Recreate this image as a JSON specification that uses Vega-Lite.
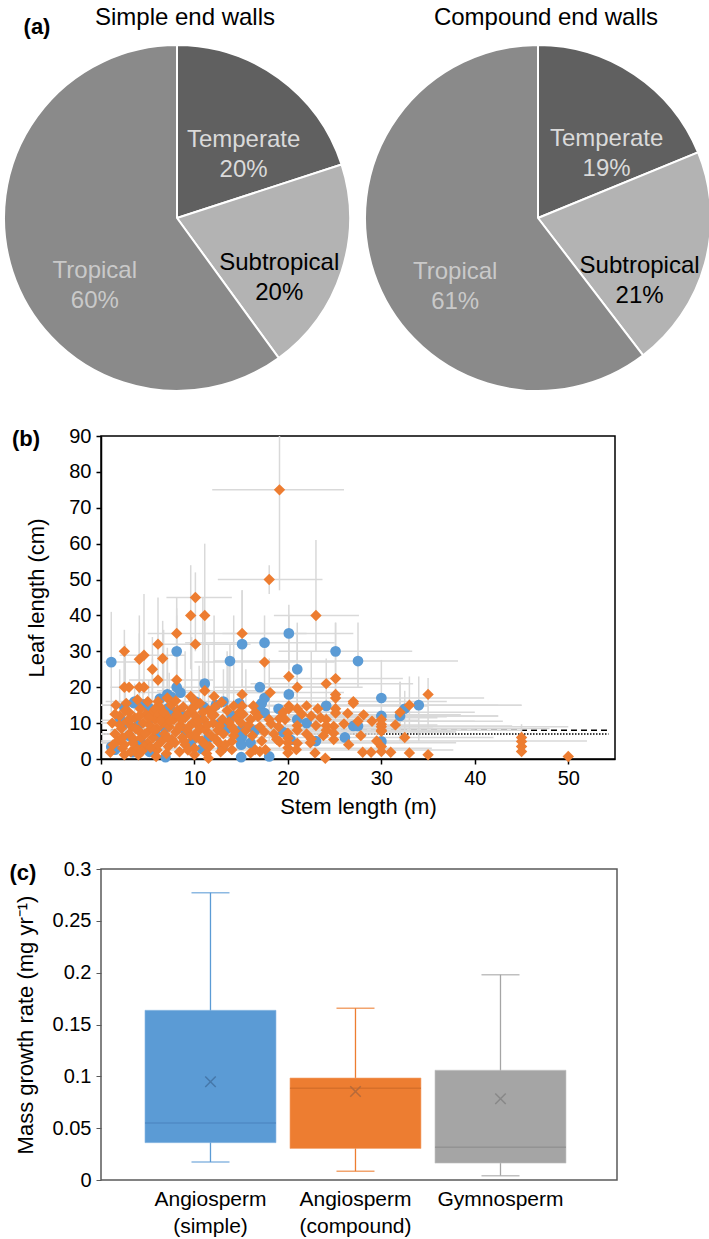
{
  "$schema": "https://vega.github.io/schema/vega-lite/v6.json",
  "background": "white",
  "padding": {"left": 0, "top": 6, "right": 0, "bottom": 4},
  "config": {
    "font": "Liberation Sans",
    "view": {"stroke": null},
    "axis": {"labelFont": "Liberation Sans", "titleFont": "Liberation Sans", "labelColor": "#000", "titleColor": "#000", "titleFontWeight": "normal", "grid": false, "labelOverlap": false},
    "text": {"font": "Liberation Sans"}
  },
  "bounds": "flush",
  "spacing": 110,
  "resolve": {"scale": {"color": "independent", "stroke": "independent"}},
  "datasets": {
    "pts": [
      {"g":"s","x":1.1,"y":27,"yl":13,"yh":41,"xl":0.3,"xh":4},
      {"g":"s","x":2.5,"y":14.4},
      {"g":"s","x":3.6,"y":16,"xl":0.5,"xh":14},
      {"g":"s","x":4.6,"y":15.2},
      {"g":"s","x":5.1,"y":14.3,"yl":8,"yh":22},
      {"g":"s","x":7.1,"y":18,"yl":6,"yh":31},
      {"g":"s","x":8.1,"y":30,"yl":20,"yh":42},
      {"g":"s","x":8.1,"y":20},
      {"g":"s","x":8.5,"y":18.5,"xl":4,"xh":20},
      {"g":"s","x":10.1,"y":16},
      {"g":"s","x":11.1,"y":21,"yl":10,"yh":38},
      {"g":"s","x":13.1,"y":16,"yl":8,"yh":25},
      {"g":"s","x":13.8,"y":27.3,"xl":12,"xh":21,"yl":20,"yh":32},
      {"g":"s","x":15.1,"y":32,"yl":20,"yh":47},
      {"g":"s","x":15.1,"y":6.5},
      {"g":"s","x":17.5,"y":32.4,"yl":25,"yh":40,"xl":9,"xh":25},
      {"g":"s","x":17,"y":20,"xl":12,"xh":24},
      {"g":"s","x":17.5,"y":17},
      {"g":"s","x":17,"y":14.8},
      {"g":"s","x":17.5,"y":12.8},
      {"g":"s","x":20.1,"y":35,"xl":13,"xh":27,"yl":25,"yh":43},
      {"g":"s","x":20.1,"y":18},
      {"g":"s","x":21,"y":25,"yl":15,"yh":35},
      {"g":"s","x":21,"y":11},
      {"g":"s","x":24.1,"y":14.8},
      {"g":"s","x":25.1,"y":30,"xl":19,"xh":33.3,"yl":17,"yh":38},
      {"g":"s","x":27.5,"y":27.3,"xl":17,"xh":38.2,"yl":20,"yh":38},
      {"g":"s","x":26.1,"y":6},
      {"g":"s","x":27,"y":9.2},
      {"g":"s","x":27.5,"y":9.2},
      {"g":"s","x":30,"y":17,"xl":20,"xh":41,"yl":10,"yh":27.6},
      {"g":"s","x":30,"y":12,"xl":18,"xh":42.5},
      {"g":"s","x":32,"y":12,"yl":5,"yh":21.5},
      {"g":"s","x":32.5,"y":14,"yl":8,"yh":19},
      {"g":"s","x":34,"y":15,"yl":5,"yh":23,"xl":25,"xh":45},
      {"g":"s","x":30,"y":4.9},
      {"g":"s","x":15,"y":5.8},
      {"g":"s","x":15,"y":4},
      {"g":"s","x":15,"y":0.5},
      {"g":"s","x":13,"y":3},
      {"g":"s","x":18,"y":0.7},
      {"g":"s","x":6.9,"y":0.5},
      {"g":"s","x":1.5,"y":2.6},
      {"g":"s","x":3.4,"y":1.9},
      {"g":"s","x":3.5,"y":15.6},
      {"g":"s","x":7.5,"y":17.3},
      {"g":"s","x":7.2,"y":14.2},
      {"g":"s","x":7.6,"y":13.3},
      {"g":"s","x":15,"y":8.1},
      {"g":"s","x":17.2,"y":15.5},
      {"g":"s","x":20.3,"y":5.3},
      {"g":"s","x":12.8,"y":10},
      {"g":"s","x":2.5,"y":10},
      {"g":"s","x":1.1,"y":3.4},
      {"g":"s","x":4.3,"y":4.6},
      {"g":"s","x":6.8,"y":8.6},
      {"g":"s","x":9,"y":8},
      {"g":"s","x":10.5,"y":11},
      {"g":"s","x":5.5,"y":11.5},
      {"g":"s","x":12.3,"y":15},
      {"g":"s","x":19,"y":14},
      {"g":"s","x":22,"y":10},
      {"g":"s","x":14,"y":12},
      {"g":"s","x":11.5,"y":6},
      {"g":"s","x":3,"y":6.5},
      {"g":"s","x":16.5,"y":8},
      {"g":"s","x":2,"y":11.5},
      {"g":"s","x":4,"y":9.5},
      {"g":"s","x":6,"y":6.5},
      {"g":"s","x":8.8,"y":12},
      {"g":"s","x":11,"y":14.5},
      {"g":"s","x":13.5,"y":8.5},
      {"g":"s","x":16,"y":4.5},
      {"g":"s","x":19.5,"y":7.5},
      {"g":"s","x":23,"y":5},
      {"g":"s","x":6.3,"y":16.8},
      {"g":"s","x":9.6,"y":4.3},
      {"g":"s","x":5.2,"y":2},
      {"g":"s","x":10.8,"y":2.8},
      {"g":"s","x":14.8,"y":15.5},
      {"g":"c","x":1.6,"y":15,"xl":0,"xh":6},
      {"g":"c","x":2.5,"y":30,"yl":20,"yh":36},
      {"g":"c","x":2.5,"y":20,"yl":10,"yh":30},
      {"g":"c","x":3,"y":20},
      {"g":"c","x":4.1,"y":27.8,"yl":15,"yh":40},
      {"g":"c","x":4.6,"y":28.9,"yl":18,"yh":46,"xl":2,"xh":9},
      {"g":"c","x":4.1,"y":20},
      {"g":"c","x":4.6,"y":20,"xl":1,"xh":11},
      {"g":"c","x":5.5,"y":25,"yl":14,"yh":34},
      {"g":"c","x":6.1,"y":32,"yl":20,"yh":45},
      {"g":"c","x":6.1,"y":22,"xl":3,"xh":12},
      {"g":"c","x":6.6,"y":28,"yl":15,"yh":38.5},
      {"g":"c","x":6.1,"y":16},
      {"g":"c","x":7.1,"y":17,"yl":8,"yh":28},
      {"g":"c","x":8.1,"y":35,"xl":5,"xh":12,"yl":25,"yh":45},
      {"g":"c","x":8.1,"y":22,"yl":12,"yh":38},
      {"g":"c","x":9.6,"y":40,"yl":25,"yh":54},
      {"g":"c","x":10.1,"y":45,"yl":30,"yh":52,"xl":7,"xh":14},
      {"g":"c","x":10.1,"y":32,"xl":6,"xh":16},
      {"g":"c","x":11.1,"y":40,"yl":20,"yh":60},
      {"g":"c","x":11.1,"y":19,"xl":6,"xh":18},
      {"g":"c","x":9.6,"y":17.4},
      {"g":"c","x":10.1,"y":14.8},
      {"g":"c","x":12.1,"y":17.4,"yl":8,"yh":40},
      {"g":"c","x":12.1,"y":12.3},
      {"g":"c","x":14.2,"y":14.8,"yl":8,"yh":40},
      {"g":"c","x":15.1,"y":35,"xl":11,"xh":22,"yl":20,"yh":47},
      {"g":"c","x":15.1,"y":18},
      {"g":"c","x":15.1,"y":14.8},
      {"g":"c","x":17.5,"y":27,"yl":20,"yh":33,"xl":10,"xh":25},
      {"g":"c","x":18.1,"y":18.5,"xl":11,"xh":26},
      {"g":"c","x":16.3,"y":14.8},
      {"g":"c","x":19.1,"y":11.3},
      {"g":"c","x":18,"y":50,"xl":12.5,"xh":23.7,"yl":46,"yh":54},
      {"g":"c","x":19.1,"y":75,"xl":11.9,"xh":26,"yl":47,"yh":90},
      {"g":"c","x":20.1,"y":23,"yl":10,"yh":40},
      {"g":"c","x":20.1,"y":14.8},
      {"g":"c","x":20.1,"y":14},
      {"g":"c","x":21,"y":20,"xl":15,"xh":28,"yl":12,"yh":38},
      {"g":"c","x":21,"y":14},
      {"g":"c","x":22,"y":14.8,"xl":14,"xh":35},
      {"g":"c","x":23,"y":40,"xl":18.5,"xh":27.6,"yl":30,"yh":61},
      {"g":"c","x":24.1,"y":21,"xl":16,"xh":33.4,"yl":10,"yh":28},
      {"g":"c","x":25.1,"y":22.4,"xl":18,"xh":32.3,"yl":15,"yh":38},
      {"g":"c","x":25.1,"y":18},
      {"g":"c","x":25.1,"y":17},
      {"g":"c","x":27,"y":16,"xl":18,"xh":37},
      {"g":"c","x":27,"y":15.5},
      {"g":"c","x":28.1,"y":12.3,"xl":20,"xh":38.5},
      {"g":"c","x":26.4,"y":12.7},
      {"g":"c","x":27.5,"y":10.5,"xl":15,"xh":40},
      {"g":"c","x":30,"y":9.7},
      {"g":"c","x":30,"y":9,"xl":22,"xh":35.5},
      {"g":"c","x":30,"y":8},
      {"g":"c","x":32,"y":13,"yl":6,"yh":21.5},
      {"g":"c","x":33,"y":15,"yl":8,"yh":23,"xl":24,"xh":42.5},
      {"g":"c","x":35,"y":18,"yl":8.8,"yh":22.6},
      {"g":"c","x":45,"y":6,"yl":4,"yh":9.7},
      {"g":"c","x":24.1,"y":11},
      {"g":"c","x":24.1,"y":9.3},
      {"g":"c","x":24.1,"y":8},
      {"g":"c","x":25.1,"y":14},
      {"g":"c","x":25.1,"y":12.8},
      {"g":"c","x":23,"y":9.3},
      {"g":"c","x":22.5,"y":5.6},
      {"g":"c","x":21,"y":9.3},
      {"g":"c","x":21,"y":8},
      {"g":"c","x":21,"y":4.4},
      {"g":"c","x":19.1,"y":4.8},
      {"g":"c","x":20,"y":7.2},
      {"g":"c","x":20,"y":5.8},
      {"g":"c","x":20,"y":4.5},
      {"g":"c","x":20,"y":3.1},
      {"g":"c","x":20,"y":1.7},
      {"g":"c","x":20.9,"y":2.6},
      {"g":"c","x":22.4,"y":4.5},
      {"g":"c","x":22.9,"y":1.7},
      {"g":"c","x":24,"y":0.2},
      {"g":"c","x":24.9,"y":9.1},
      {"g":"c","x":24.9,"y":7.2},
      {"g":"c","x":24.9,"y":5.4},
      {"g":"c","x":28,"y":1.9},
      {"g":"c","x":28.9,"y":1.9},
      {"g":"c","x":30,"y":11},
      {"g":"c","x":30,"y":7.7},
      {"g":"c","x":30,"y":3.5},
      {"g":"c","x":30,"y":2.1},
      {"g":"c","x":31,"y":1.9},
      {"g":"c","x":33,"y":1.7},
      {"g":"c","x":35,"y":1.2},
      {"g":"c","x":45,"y":4.9},
      {"g":"c","x":45,"y":3.5},
      {"g":"c","x":45,"y":2.1},
      {"g":"c","x":50,"y":0.7},
      {"g":"c","x":17.6,"y":2.6},
      {"g":"c","x":17,"y":2.1},
      {"g":"c","x":16.5,"y":2.6},
      {"g":"c","x":16,"y":1.7},
      {"g":"c","x":14,"y":4.9},
      {"g":"c","x":14,"y":2.6},
      {"g":"c","x":13,"y":2.6},
      {"g":"c","x":11.5,"y":0.2},
      {"g":"c","x":10,"y":1.2},
      {"g":"c","x":5.9,"y":0.7},
      {"g":"c","x":4,"y":1.2},
      {"g":"c","x":2.5,"y":1.2},
      {"g":"c","x":1,"y":1.9},
      {"g":"c","x":1.2,"y":10,"xl":0,"xh":8},
      {"g":"c","x":1.5,"y":7},
      {"g":"c","x":1.8,"y":5},
      {"g":"c","x":2,"y":12,"yl":5,"yh":25},
      {"g":"c","x":2.2,"y":8.5},
      {"g":"c","x":2.5,"y":4},
      {"g":"c","x":2.8,"y":10.5},
      {"g":"c","x":3,"y":7,"xl":0,"xh":30},
      {"g":"c","x":3,"y":13},
      {"g":"c","x":3.3,"y":9},
      {"g":"c","x":3.5,"y":5.5},
      {"g":"c","x":3.6,"y":11.5,"yl":4,"yh":21},
      {"g":"c","x":3.8,"y":3},
      {"g":"c","x":4,"y":8,"xl":1,"xh":45},
      {"g":"c","x":4.2,"y":14},
      {"g":"c","x":4.3,"y":6},
      {"g":"c","x":4.5,"y":10,"yl":3,"yh":22},
      {"g":"c","x":4.8,"y":12.5},
      {"g":"c","x":5,"y":4.5,"xl":0,"xh":38},
      {"g":"c","x":5,"y":7.5},
      {"g":"c","x":5.2,"y":9.5},
      {"g":"c","x":5.5,"y":13,"yl":5,"yh":28},
      {"g":"c","x":5.6,"y":6},
      {"g":"c","x":5.8,"y":11},
      {"g":"c","x":6,"y":2.5,"xl":2,"xh":37.7},
      {"g":"c","x":6,"y":8.5},
      {"g":"c","x":6.3,"y":14.5},
      {"g":"c","x":6.5,"y":5,"xl":0,"xh":52},
      {"g":"c","x":6.6,"y":10},
      {"g":"c","x":6.8,"y":7},
      {"g":"c","x":7,"y":12,"xl":2,"xh":42.5},
      {"g":"c","x":7.2,"y":3.5},
      {"g":"c","x":7.3,"y":9,"yl":3,"yh":24},
      {"g":"c","x":7.5,"y":15,"xl":0,"xh":45},
      {"g":"c","x":7.6,"y":5.5},
      {"g":"c","x":7.8,"y":11},
      {"g":"c","x":8,"y":7.5,"xl":1,"xh":38},
      {"g":"c","x":8.2,"y":13.5},
      {"g":"c","x":8.4,"y":2},
      {"g":"c","x":8.5,"y":9.5},
      {"g":"c","x":8.7,"y":6},
      {"g":"c","x":9,"y":11.5,"yl":5,"yh":30},
      {"g":"c","x":9,"y":4},
      {"g":"c","x":9.2,"y":8},
      {"g":"c","x":9.5,"y":13,"xl":4,"xh":28},
      {"g":"c","x":9.6,"y":6.5},
      {"g":"c","x":9.8,"y":10},
      {"g":"c","x":10,"y":3,"xl":5,"xh":35.4},
      {"g":"c","x":10.1,"y":12},
      {"g":"c","x":10.3,"y":7.5},
      {"g":"c","x":10.5,"y":9,"yl":4,"yh":26},
      {"g":"c","x":10.6,"y":15.5},
      {"g":"c","x":10.8,"y":5},
      {"g":"c","x":11,"y":11,"xl":3,"xh":32},
      {"g":"c","x":11.2,"y":8},
      {"g":"c","x":11.5,"y":13.5,"yl":7,"yh":32},
      {"g":"c","x":11.6,"y":3.5},
      {"g":"c","x":11.8,"y":6.5},
      {"g":"c","x":12,"y":10},
      {"g":"c","x":12.2,"y":14.5},
      {"g":"c","x":12.5,"y":8,"xl":6,"xh":30},
      {"g":"c","x":12.6,"y":4.5},
      {"g":"c","x":13,"y":11},
      {"g":"c","x":13.1,"y":7},
      {"g":"c","x":13.5,"y":13.5,"yl":8,"yh":30},
      {"g":"c","x":14,"y":9},
      {"g":"c","x":14.2,"y":6.5},
      {"g":"c","x":14.5,"y":11.5,"xl":8,"xh":36},
      {"g":"c","x":15,"y":10},
      {"g":"c","x":15.2,"y":12.5},
      {"g":"c","x":15.5,"y":8,"yl":3,"yh":25},
      {"g":"c","x":16,"y":11},
      {"g":"c","x":16.2,"y":6.5},
      {"g":"c","x":16.5,"y":13,"xl":9,"xh":40},
      {"g":"c","x":17,"y":9},
      {"g":"c","x":17.2,"y":5},
      {"g":"c","x":18,"y":11,"yl":5,"yh":28},
      {"g":"c","x":18.5,"y":7},
      {"g":"c","x":19,"y":9},
      {"g":"c","x":19.5,"y":13},
      {"g":"c","x":22.5,"y":12,"yl":6,"yh":30},
      {"g":"c","x":23.2,"y":14},
      {"g":"c","x":2.3,"y":6},
      {"g":"c","x":3.2,"y":2},
      {"g":"c","x":4.6,"y":3.5},
      {"g":"c","x":5.8,"y":14},
      {"g":"c","x":7,"y":1.5},
      {"g":"c","x":8.8,"y":14.5},
      {"g":"c","x":9.3,"y":2.5},
      {"g":"c","x":11.3,"y":1.5},
      {"g":"c","x":12.8,"y":2},
      {"g":"c","x":6.2,"y":12.5},
      {"g":"c","x":2.7,"y":15.5},
      {"g":"c","x":3.9,"y":16.5},
      {"g":"c","x":1.3,"y":4},
      {"g":"c","x":1.5,"y":12.5},
      {"g":"c","x":2,"y":9.5},
      {"g":"c","x":2.3,"y":3},
      {"g":"c","x":2.6,"y":13.5,"yl":6,"yh":32},
      {"g":"c","x":3.1,"y":11},
      {"g":"c","x":3.4,"y":4.5,"xl":0,"xh":33},
      {"g":"c","x":3.7,"y":8.5},
      {"g":"c","x":4.1,"y":12,"yl":5,"yh":35},
      {"g":"c","x":4.4,"y":2.2},
      {"g":"c","x":4.7,"y":7,"xl":0,"xh":27},
      {"g":"c","x":5.1,"y":11.5},
      {"g":"c","x":5.3,"y":3.2},
      {"g":"c","x":5.7,"y":8,"xl":1,"xh":40},
      {"g":"c","x":6.1,"y":4},
      {"g":"c","x":6.4,"y":10.8,"xl":0,"xh":34},
      {"g":"c","x":6.7,"y":13,"yl":4,"yh":36},
      {"g":"c","x":7.1,"y":6},
      {"g":"c","x":7.4,"y":10.5,"xl":1,"xh":43},
      {"g":"c","x":7.9,"y":4.5},
      {"g":"c","x":8.1,"y":12.5,"yl":3,"yh":40},
      {"g":"c","x":8.3,"y":8.5,"xl":2,"xh":48},
      {"g":"c","x":8.6,"y":11},
      {"g":"c","x":8.9,"y":5},
      {"g":"c","x":9.4,"y":9,"xl":2,"xh":50},
      {"g":"c","x":9.7,"y":14,"yl":6,"yh":34},
      {"g":"c","x":10.2,"y":6,"xl":3,"xh":42},
      {"g":"c","x":10.4,"y":10.5},
      {"g":"c","x":10.9,"y":13,"yl":5,"yh":45},
      {"g":"c","x":11.1,"y":4.2},
      {"g":"c","x":11.4,"y":9.5,"xl":4,"xh":36},
      {"g":"c","x":11.9,"y":12},
      {"g":"c","x":12.3,"y":5.5},
      {"g":"c","x":12.7,"y":9.2,"xl":5,"xh":44},
      {"g":"c","x":13.3,"y":4},
      {"g":"c","x":13.7,"y":10.3,"yl":4,"yh":28},
      {"g":"c","x":14.3,"y":7.8,"xl":6,"xh":38},
      {"g":"c","x":14.8,"y":13},
      {"g":"c","x":15.8,"y":9.5},
      {"g":"c","x":16.8,"y":11.8,"xl":8,"xh":37},
      {"g":"c","x":17.5,"y":7.5},
      {"g":"c","x":18.2,"y":9.8},
      {"g":"c","x":18.8,"y":5.5},
      {"g":"c","x":19.7,"y":11},
      {"g":"c","x":21.5,"y":12.5},
      {"g":"c","x":22,"y":7},
      {"g":"c","x":23.5,"y":11.5},
      {"g":"c","x":23.8,"y":6.5},
      {"g":"c","x":26,"y":9.8},
      {"g":"c","x":26.5,"y":4},
      {"g":"c","x":27.8,"y":6.5},
      {"g":"c","x":29,"y":10.5},
      {"g":"c","x":29.5,"y":5},
      {"g":"c","x":31.5,"y":9.5},
      {"g":"c","x":32.5,"y":6},
      {"g":"c","x":9.9,"y":16.5},
      {"g":"c","x":5,"y":16},
      {"g":"c","x":12.9,"y":15.8},
      {"g":"c","x":8,"y":16.2}
    ]
  },
  "vconcat": [
    {
      "width": 520,
      "height": 216,
      "data": {"values": [
        {"wall": "Simple end walls", "climate": "Temperate", "pct": 20, "slice": 1, "label": "Temperate\n20%"},
        {"wall": "Simple end walls", "climate": "Subtropical", "pct": 20, "slice": 2, "label": "Subtropical\n20%"},
        {"wall": "Simple end walls", "climate": "Tropical", "pct": 60, "slice": 3, "label": "Tropical\n60%"},
        {"wall": "Compound end walls", "climate": "Temperate", "pct": 19, "slice": 1, "label": "Temperate\n19%"},
        {"wall": "Compound end walls", "climate": "Subtropical", "pct": 21, "slice": 2, "label": "Subtropical\n21%"},
        {"wall": "Compound end walls", "climate": "Tropical", "pct": 61, "slice": 3, "label": "Tropical\n61%"}
      ]},
      "encoding": {
        "x": {"field": "wall", "type": "nominal", "scale": {"type": "point", "padding": 0, "domain": ["Simple end walls", "Compound end walls"], "range": [76, 437]}, "axis": null},
        "theta": {"field": "pct", "type": "quantitative", "stack": "normalize"},
        "order": {"field": "slice", "type": "quantitative"}
      },
      "layer": [
        {
          "transform": [{"filter": "datum.wall === 'Simple end walls'"}],
          "mark": {"type": "arc", "radius": 173, "stroke": "white", "strokeWidth": 2},
          "encoding": {
            "color": {"field": "climate", "type": "nominal", "scale": {"domain": ["Temperate", "Subtropical", "Tropical"], "range": ["#606060", "#b3b3b3", "#8a8a8a"]}, "legend": null}
          }
        },
        {
          "transform": [{"filter": "datum.wall === 'Compound end walls'"}],
          "mark": {"type": "arc", "radius": 173, "stroke": "white", "strokeWidth": 2},
          "encoding": {
            "color": {"field": "climate", "type": "nominal", "scale": {"domain": ["Temperate", "Subtropical", "Tropical"], "range": ["#606060", "#b3b3b3", "#8a8a8a"]}, "legend": null}
          }
        },
        {
          "transform": [{"filter": "datum.wall === 'Simple end walls'"}],
          "mark": {"type": "text", "radius": 98, "fontSize": 24, "lineBreak": "\n", "lineHeight": 30, "align": "center", "baseline": "middle", "dx": 9, "dy": 1, "color": "#dadada"},
          "encoding": {"text": {"field": "label"}, "opacity": {"condition": {"test": "datum.climate === 'Temperate'", "value": 1}, "value": 0}}
        },
        {
          "transform": [{"filter": "datum.wall === 'Simple end walls'"}],
          "mark": {"type": "text", "radius": 98, "fontSize": 24, "lineBreak": "\n", "lineHeight": 30, "align": "center", "baseline": "middle", "dx": 9, "dy": 15, "color": "#000000"},
          "encoding": {"text": {"field": "label"}, "opacity": {"condition": {"test": "datum.climate === 'Subtropical'", "value": 1}, "value": 0}}
        },
        {
          "transform": [{"filter": "datum.wall === 'Simple end walls'"}],
          "mark": {"type": "text", "radius": 98, "fontSize": 24, "lineBreak": "\n", "lineHeight": 30, "align": "center", "baseline": "middle", "dx": 11, "dy": 23, "color": "#c9c9c9"},
          "encoding": {"text": {"field": "label"}, "opacity": {"condition": {"test": "datum.climate === 'Tropical'", "value": 1}, "value": 0}}
        },
        {
          "transform": [{"filter": "datum.wall === 'Compound end walls'"}],
          "mark": {"type": "text", "radius": 98, "fontSize": 24, "lineBreak": "\n", "lineHeight": 30, "align": "center", "baseline": "middle", "dx": 14, "dy": 2, "color": "#dadada"},
          "encoding": {"text": {"field": "label"}, "opacity": {"condition": {"test": "datum.climate === 'Temperate'", "value": 1}, "value": 0}}
        },
        {
          "transform": [{"filter": "datum.wall === 'Compound end walls'"}],
          "mark": {"type": "text", "radius": 98, "fontSize": 24, "lineBreak": "\n", "lineHeight": 30, "align": "center", "baseline": "middle", "dx": 7, "dy": 22, "color": "#000000"},
          "encoding": {"text": {"field": "label"}, "opacity": {"condition": {"test": "datum.climate === 'Subtropical'", "value": 1}, "value": 0}}
        },
        {
          "transform": [{"filter": "datum.wall === 'Compound end walls'"}],
          "mark": {"type": "text", "radius": 98, "fontSize": 24, "lineBreak": "\n", "lineHeight": 30, "align": "center", "baseline": "middle", "dx": 10, "dy": 23, "color": "#c9c9c9"},
          "encoding": {"text": {"field": "label"}, "opacity": {"condition": {"test": "datum.climate === 'Tropical'", "value": 1}, "value": 0}}
        },
        {
          "data": {"values": [{"wall": "Simple end walls"}, {"wall": "Compound end walls"}]},
          "mark": {"type": "text", "theta": 0, "radius": 193, "fontSize": 24, "align": "center", "baseline": "alphabetic", "dx": 8, "color": "#000"},
          "encoding": {"text": {"field": "wall"}, "theta": null, "order": null}
        },
        {
          "data": {"values": [{"panel": "(a)"}]},
          "mark": {"type": "text", "theta": -0.632, "radius": 237, "fontSize": 22, "fontWeight": "bold", "align": "center", "baseline": "middle", "color": "#000"},
          "encoding": {"x": {"datum": "Simple end walls"}, "text": {"field": "panel"}, "theta": null, "order": null}
        }
      ]
    },
    {
      "width": 514,
      "height": 323,
      "view": {"stroke": "#000", "strokeWidth": 1.5},
      "data": {"name": "pts"},
      "layer": [
        {
          "data": {"values": [{"ref": "dashed", "y": 8, "x0": 0, "x1": 54.3}]},
          "mark": {"type": "rule", "color": "#000", "strokeWidth": 1.5, "strokeDash": [6, 4]},
          "encoding": {
            "x": {"field": "x0", "type": "quantitative", "title": "Stem length (m)", "scale": {"domain": [0, 55], "nice": false, "zero": false},
                  "axis": {"values": [0, 10, 20, 30, 40, 50], "labelFontSize": 20, "titleFontSize": 22, "tickSize": 5, "tickColor": "#000", "tickWidth": 1.5, "domainColor": "#000", "domainWidth": 1.5, "labelPadding": 4, "titlePadding": 8}},
            "x2": {"field": "x1"},
            "y": {"field": "y", "type": "quantitative", "title": "Leaf length (cm)", "scale": {"domain": [0, 90], "nice": false, "zero": false},
                  "axis": {"values": [0, 10, 20, 30, 40, 50, 60, 70, 80, 90], "labelFontSize": 20, "titleFontSize": 22, "tickSize": 5, "tickColor": "#000", "tickWidth": 1.5, "domainColor": "#000", "domainWidth": 1.5, "labelPadding": 5, "titlePadding": 20}}
          }
        },
        {
          "data": {"values": [{"ref": "dotted", "y": 7, "x0": 0, "x1": 54.3}]},
          "mark": {"type": "rule", "color": "#000", "strokeWidth": 1.5, "strokeDash": [1.5, 1.5]},
          "encoding": {
            "x": {"field": "x0", "type": "quantitative", "title": "Stem length (m)", "scale": {"domain": [0, 55], "nice": false, "zero": false},
                  "axis": {"values": [0, 10, 20, 30, 40, 50], "labelFontSize": 20, "titleFontSize": 22, "tickSize": 5, "tickColor": "#000", "tickWidth": 1.5, "domainColor": "#000", "domainWidth": 1.5, "labelPadding": 4, "titlePadding": 8}},
            "x2": {"field": "x1"},
            "y": {"field": "y", "type": "quantitative", "title": "Leaf length (cm)", "scale": {"domain": [0, 90], "nice": false, "zero": false},
                  "axis": {"values": [0, 10, 20, 30, 40, 50, 60, 70, 80, 90], "labelFontSize": 20, "titleFontSize": 22, "tickSize": 5, "tickColor": "#000", "tickWidth": 1.5, "domainColor": "#000", "domainWidth": 1.5, "labelPadding": 5, "titlePadding": 20}}
          }
        },
        {
          "transform": [{"filter": "isValid(datum.xl)"}],
          "mark": {"type": "rule", "color": "#d9d9d9", "strokeWidth": 1.5},
          "encoding": {
            "x": {"field": "xl", "type": "quantitative", "title": "Stem length (m)", "scale": {"domain": [0, 55], "nice": false, "zero": false},
                  "axis": {"values": [0, 10, 20, 30, 40, 50], "labelFontSize": 20, "titleFontSize": 22, "tickSize": 5, "tickColor": "#000", "tickWidth": 1.5, "domainColor": "#000", "domainWidth": 1.5, "labelPadding": 4, "titlePadding": 8}},
            "x2": {"field": "xh"},
            "y": {"field": "y", "type": "quantitative", "title": "Leaf length (cm)", "scale": {"domain": [0, 90], "nice": false, "zero": false},
                  "axis": {"values": [0, 10, 20, 30, 40, 50, 60, 70, 80, 90], "labelFontSize": 20, "titleFontSize": 22, "tickSize": 5, "tickColor": "#000", "tickWidth": 1.5, "domainColor": "#000", "domainWidth": 1.5, "labelPadding": 5, "titlePadding": 20}}
          }
        },
        {
          "transform": [{"filter": "isValid(datum.yl)"}],
          "mark": {"type": "rule", "color": "#d9d9d9", "strokeWidth": 1.5},
          "encoding": {
            "x": {"field": "x", "type": "quantitative", "title": "Stem length (m)", "scale": {"domain": [0, 55], "nice": false, "zero": false},
                  "axis": {"values": [0, 10, 20, 30, 40, 50], "labelFontSize": 20, "titleFontSize": 22, "tickSize": 5, "tickColor": "#000", "tickWidth": 1.5, "domainColor": "#000", "domainWidth": 1.5, "labelPadding": 4, "titlePadding": 8}},
            "y": {"field": "yl", "type": "quantitative", "title": "Leaf length (cm)", "scale": {"domain": [0, 90], "nice": false, "zero": false},
                  "axis": {"values": [0, 10, 20, 30, 40, 50, 60, 70, 80, 90], "labelFontSize": 20, "titleFontSize": 22, "tickSize": 5, "tickColor": "#000", "tickWidth": 1.5, "domainColor": "#000", "domainWidth": 1.5, "labelPadding": 5, "titlePadding": 20}},
            "y2": {"field": "yh"}
          }
        },
        {
          "transform": [{"filter": "datum.g === 's'"}],
          "mark": {"type": "point", "shape": "circle", "filled": true, "size": 115, "color": "#5B9BD5", "opacity": 1},
          "encoding": {
            "x": {"field": "x", "type": "quantitative", "title": "Stem length (m)", "scale": {"domain": [0, 55], "nice": false, "zero": false},
                  "axis": {"values": [0, 10, 20, 30, 40, 50], "labelFontSize": 20, "titleFontSize": 22, "tickSize": 5, "tickColor": "#000", "tickWidth": 1.5, "domainColor": "#000", "domainWidth": 1.5, "labelPadding": 4, "titlePadding": 8}},
            "y": {"field": "y", "type": "quantitative", "title": "Leaf length (cm)", "scale": {"domain": [0, 90], "nice": false, "zero": false},
                  "axis": {"values": [0, 10, 20, 30, 40, 50, 60, 70, 80, 90], "labelFontSize": 20, "titleFontSize": 22, "tickSize": 5, "tickColor": "#000", "tickWidth": 1.5, "domainColor": "#000", "domainWidth": 1.5, "labelPadding": 5, "titlePadding": 20}}
          }
        },
        {
          "transform": [{"filter": "datum.g === 'c'"}],
          "mark": {"type": "point", "shape": "diamond", "filled": true, "size": 130, "color": "#ED7D31", "opacity": 1},
          "encoding": {
            "x": {"field": "x", "type": "quantitative", "title": "Stem length (m)", "scale": {"domain": [0, 55], "nice": false, "zero": false},
                  "axis": {"values": [0, 10, 20, 30, 40, 50], "labelFontSize": 20, "titleFontSize": 22, "tickSize": 5, "tickColor": "#000", "tickWidth": 1.5, "domainColor": "#000", "domainWidth": 1.5, "labelPadding": 4, "titlePadding": 8}},
            "y": {"field": "y", "type": "quantitative", "title": "Leaf length (cm)", "scale": {"domain": [0, 90], "nice": false, "zero": false},
                  "axis": {"values": [0, 10, 20, 30, 40, 50, 60, 70, 80, 90], "labelFontSize": 20, "titleFontSize": 22, "tickSize": 5, "tickColor": "#000", "tickWidth": 1.5, "domainColor": "#000", "domainWidth": 1.5, "labelPadding": 5, "titlePadding": 20}}
          }
        },
        {
          "data": {"values": [{"panel": "(b)"}]},
          "mark": {"type": "text", "fontSize": 22, "fontWeight": "bold", "align": "left", "baseline": "middle", "dx": -89, "dy": 3, "color": "#000"},
          "encoding": {
            "x": {"datum": 0, "type": "quantitative", "title": "Stem length (m)", "scale": {"domain": [0, 55], "nice": false, "zero": false},
                  "axis": {"values": [0, 10, 20, 30, 40, 50], "labelFontSize": 20, "titleFontSize": 22, "tickSize": 5, "tickColor": "#000", "tickWidth": 1.5, "domainColor": "#000", "domainWidth": 1.5, "labelPadding": 4, "titlePadding": 8}},
            "y": {"datum": 90, "type": "quantitative", "title": "Leaf length (cm)", "scale": {"domain": [0, 90], "nice": false, "zero": false},
                  "axis": {"values": [0, 10, 20, 30, 40, 50, 60, 70, 80, 90], "labelFontSize": 20, "titleFontSize": 22, "tickSize": 5, "tickColor": "#000", "tickWidth": 1.5, "domainColor": "#000", "domainWidth": 1.5, "labelPadding": 5, "titlePadding": 20}},
            "text": {"field": "panel"}
          }
        }
      ]
    },
    {
      "width": 516,
      "height": 311,
      "view": {"stroke": "#595959", "strokeWidth": 1.5},
      "data": {"values": [
        {"grp": "Angiosperm (simple)", "lo": 0.0173, "q1": 0.036, "med": 0.0549, "q3": 0.1637, "hi": 0.277, "mean": 0.0948},
        {"grp": "Angiosperm (compound)", "lo": 0.0085, "q1": 0.0304, "med": 0.0886, "q3": 0.0984, "hi": 0.1657, "mean": 0.0853},
        {"grp": "Gymnosperm", "lo": 0.0042, "q1": 0.0163, "med": 0.0317, "q3": 0.1059, "hi": 0.198, "mean": 0.0784}
      ]},
      "encoding": {
        "x": {"field": "grp", "type": "nominal", "title": null, "sort": null,
              "scale": {"type": "band", "domain": ["Angiosperm (simple)", "Angiosperm (compound)", "Gymnosperm"], "paddingInner": 0.0966, "paddingOuter": 0.3276, "align": 0.463},
              "axis": {"labelExpr": "split(datum.label, ' ')", "labelAngle": 0, "labelFontSize": 21, "labelLineHeight": 27, "labelPadding": 8, "domain": false, "ticks": false}}
      },
      "layer": [
        {
          "mark": {"type": "rule", "strokeWidth": 1.3},
          "encoding": {
            "y": {"field": "lo", "type": "quantitative", "title": "Mass growth rate (mg yr\u207b\u00b9)", "scale": {"domain": [0, 0.3], "nice": false},
                  "axis": {"values": [0, 0.05, 0.1, 0.15, 0.2, 0.25, 0.3], "format": "~g", "labelFontSize": 20, "titleFontSize": 22, "tickSize": 5, "tickColor": "#595959", "domain": false, "labelPadding": 5, "titlePadding": 15}},
            "y2": {"field": "hi"},
            "color": {"field": "grp", "type": "nominal", "scale": {"domain": ["Angiosperm (simple)", "Angiosperm (compound)", "Gymnosperm"], "range": ["#5B9BD5", "#ED7D31", "#A5A5A5"]}, "legend": null}
          }
        },
        {
          "mark": {"type": "tick", "size": 38, "thickness": 1.5},
          "encoding": {
            "y": {"field": "lo", "type": "quantitative"},
            "color": {"field": "grp", "type": "nominal", "scale": {"domain": ["Angiosperm (simple)", "Angiosperm (compound)", "Gymnosperm"], "range": ["#5B9BD5", "#ED7D31", "#A5A5A5"]}, "legend": null}
          }
        },
        {
          "mark": {"type": "tick", "size": 38, "thickness": 1.5},
          "encoding": {
            "y": {"field": "hi", "type": "quantitative"},
            "color": {"field": "grp", "type": "nominal", "scale": {"domain": ["Angiosperm (simple)", "Angiosperm (compound)", "Gymnosperm"], "range": ["#5B9BD5", "#ED7D31", "#A5A5A5"]}, "legend": null}
          }
        },
        {
          "mark": {"type": "bar", "strokeWidth": 1, "strokeOpacity": 0.6},
          "encoding": {
            "y": {"field": "q1", "type": "quantitative"},
            "y2": {"field": "q3"},
            "color": {"field": "grp", "type": "nominal", "scale": {"domain": ["Angiosperm (simple)", "Angiosperm (compound)", "Gymnosperm"], "range": ["#5B9BD5", "#ED7D31", "#A5A5A5"]}, "legend": null},
            "stroke": {"field": "grp", "type": "nominal", "scale": {"domain": ["Angiosperm (simple)", "Angiosperm (compound)", "Gymnosperm"], "range": ["#8ab8e3", "#f3a673", "#c4c4c4"]}, "legend": null}
          }
        },
        {
          "mark": {"type": "tick", "thickness": 1.5, "size": 131},
          "encoding": {
            "y": {"field": "med", "type": "quantitative"},
            "color": {"value": "#000", "condition": [{"test": "datum.grp === 'Angiosperm (simple)'", "value": "#4a85bf"}, {"test": "datum.grp === 'Angiosperm (compound)'", "value": "#cd6a28"}, {"test": "datum.grp === 'Gymnosperm'", "value": "#8c8c8c"}]}
          }
        },
        {
          "mark": {"type": "point", "shape": "M-1,-1L1,1M-1,1L1,-1", "filled": false, "size": 110, "strokeWidth": 1.5, "opacity": 1},
          "encoding": {
            "y": {"field": "mean", "type": "quantitative"},
            "color": {"value": "#000", "condition": [{"test": "datum.grp === 'Angiosperm (simple)'", "value": "#4678aa"}, {"test": "datum.grp === 'Angiosperm (compound)'", "value": "#b66a3a"}, {"test": "datum.grp === 'Gymnosperm'", "value": "#888888"}]}
          }
        },
        {
          "data": {"values": [{"panel": "(c)"}]},
          "mark": {"type": "text", "fontSize": 22, "fontWeight": "bold", "align": "left", "baseline": "middle", "dx": -201, "dy": 4, "color": "#000"},
          "encoding": {
            "x": {"datum": "Angiosperm (simple)"},
            "y": {"datum": 0.3, "type": "quantitative"},
            "text": {"field": "panel"}
          }
        }
      ]
    }
  ]
}
